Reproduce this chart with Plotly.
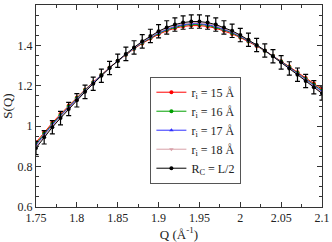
import plotly.graph_objects as go

Q = [1.75, 1.76, 1.77, 1.78, 1.79, 1.80, 1.81, 1.82, 1.83, 1.84, 1.85, 1.86,
     1.87, 1.88, 1.89, 1.90, 1.91, 1.92, 1.93, 1.94, 1.95, 1.96, 1.97, 1.98,
     1.99, 2.00, 2.01, 2.02, 2.03, 2.04, 2.05, 2.06, 2.07, 2.08, 2.09, 2.10]

S_RC = [0.892, 0.945, 0.995, 1.040, 1.085, 1.128, 1.170, 1.210, 1.250, 1.288,
        1.324, 1.358, 1.390, 1.420, 1.447, 1.470, 1.489, 1.503, 1.513, 1.518,
        1.518, 1.513, 1.503, 1.489, 1.472, 1.451, 1.428, 1.402, 1.375, 1.346,
        1.316, 1.286, 1.255, 1.224, 1.193, 1.162]
ERR_RC = [0.033] * 36

S_15 = [0.920, 0.970, 1.017, 1.060, 1.102, 1.142, 1.181, 1.218, 1.255, 1.290,
        1.323, 1.354, 1.383, 1.410, 1.434, 1.455, 1.472, 1.485, 1.494, 1.498,
        1.498, 1.494, 1.485, 1.472, 1.457, 1.439, 1.419, 1.397, 1.374, 1.349,
        1.322, 1.295, 1.267, 1.239, 1.211, 1.183]
S_16 = [0.912, 0.963, 1.011, 1.054, 1.097, 1.138, 1.178, 1.216, 1.254, 1.289,
        1.323, 1.355, 1.385, 1.413, 1.438, 1.459, 1.477, 1.490, 1.500, 1.504,
        1.504, 1.500, 1.490, 1.477, 1.462, 1.443, 1.422, 1.399, 1.374, 1.348,
        1.320, 1.292, 1.263, 1.234, 1.205, 1.176]
S_17 = [0.906, 0.958, 1.007, 1.051, 1.094, 1.136, 1.176, 1.215, 1.253, 1.289,
        1.323, 1.356, 1.386, 1.415, 1.440, 1.462, 1.480, 1.494, 1.503, 1.508,
        1.508, 1.503, 1.494, 1.480, 1.465, 1.445, 1.424, 1.400, 1.374, 1.347,
        1.319, 1.290, 1.261, 1.231, 1.201, 1.172]
S_18 = [0.900, 0.953, 1.002, 1.046, 1.090, 1.132, 1.173, 1.212, 1.251, 1.288,
        1.323, 1.357, 1.388, 1.417, 1.443, 1.466, 1.484, 1.498, 1.508, 1.512,
        1.512, 1.508, 1.498, 1.484, 1.468, 1.448, 1.426, 1.401, 1.374, 1.346,
        1.317, 1.288, 1.258, 1.228, 1.197, 1.167]

X_TICKS = [1.75, 1.8, 1.85, 1.9, 1.95, 2.0, 2.05, 2.1]
X_LABELS = ["1.75", "1.8", "1.85", "1.9", "1.95", "2", "2.05", "2.1"]
Y_TICKS = [0.6, 0.8, 1.0, 1.2, 1.4, 1.6]
Y_LABELS = ["0.6", "0.8", "1", "1.2", "1.4", "1.6"]

FONT = "Liberation Serif, Times New Roman, DejaVu Serif, serif"

fig = go.Figure()
series = [
    ("r<sub>i</sub> = 15 Å", S_15, "#ff0000", "circle"),
    ("r<sub>i</sub> = 16 Å", S_16, "#00a000", "circle"),
    ("r<sub>i</sub> = 17 Å", S_17, "#3030ff", "triangle-up"),
    ("r<sub>i</sub> = 18 Å", S_18, "#d8a0a8", "triangle-down"),
]
for name, ys, col, sym in series:
    fig.add_trace(go.Scatter(
        x=Q, y=ys, name=name, mode="lines+markers",
        line=dict(color=col, width=1),
        marker=dict(color=col, size=4, symbol=sym),
    ))
fig.add_trace(go.Scatter(
    x=Q, y=S_RC, name="R<sub>C</sub> = L/2", mode="lines+markers",
    line=dict(color="black", width=1),
    marker=dict(color="black", size=4, symbol="circle"),
    error_y=dict(type="data", array=ERR_RC, color="black", thickness=1.2, width=2.5),
))

axis_common = dict(
    showline=True, linecolor="#333333", linewidth=1, mirror="allticks",
    ticks="inside", ticklen=5, tickcolor="#333333", showgrid=False, zeroline=False,
    tickfont=dict(family=FONT, size=12, color="#222222"),
    automargin=False,
)
fig.update_xaxes(
    range=[1.75, 2.1], tickvals=X_TICKS, ticktext=X_LABELS,
    minor=dict(ticks="inside", ticklen=3, dtick=0.025, tick0=1.75, tickcolor="#333333"),
    title=dict(text="Q (Å<sup>-1</sup>)", font=dict(family=FONT, size=13, color="#222222"), standoff=3),
    **axis_common,
)
fig.update_yaxes(
    range=[0.6, 1.6], tickvals=Y_TICKS, ticktext=Y_LABELS,
    minor=dict(ticks="inside", ticklen=3, dtick=0.05, tick0=0.6, tickcolor="#333333"),
    title=dict(text="S(Q)", font=dict(family=FONT, size=13, color="#222222"), standoff=2),
    **axis_common,
)
fig.update_layout(
    width=332, height=242,
    margin=dict(l=36, r=10, t=5, b=35),
    paper_bgcolor="white", plot_bgcolor="white",
    font=dict(family=FONT, size=12, color="#222222"),
    legend=dict(
        x=0.40, y=0.645, xanchor="left", yanchor="top",
        bgcolor="white", bordercolor="#555555", borderwidth=1,
        font=dict(family=FONT, size=12, color="#222222"),
        itemwidth=30, tracegroupgap=0,
    ),
)
fig.write_html("out.html", config={"displayModeBar": False},
               post_script="document.body.style.margin='0';")
